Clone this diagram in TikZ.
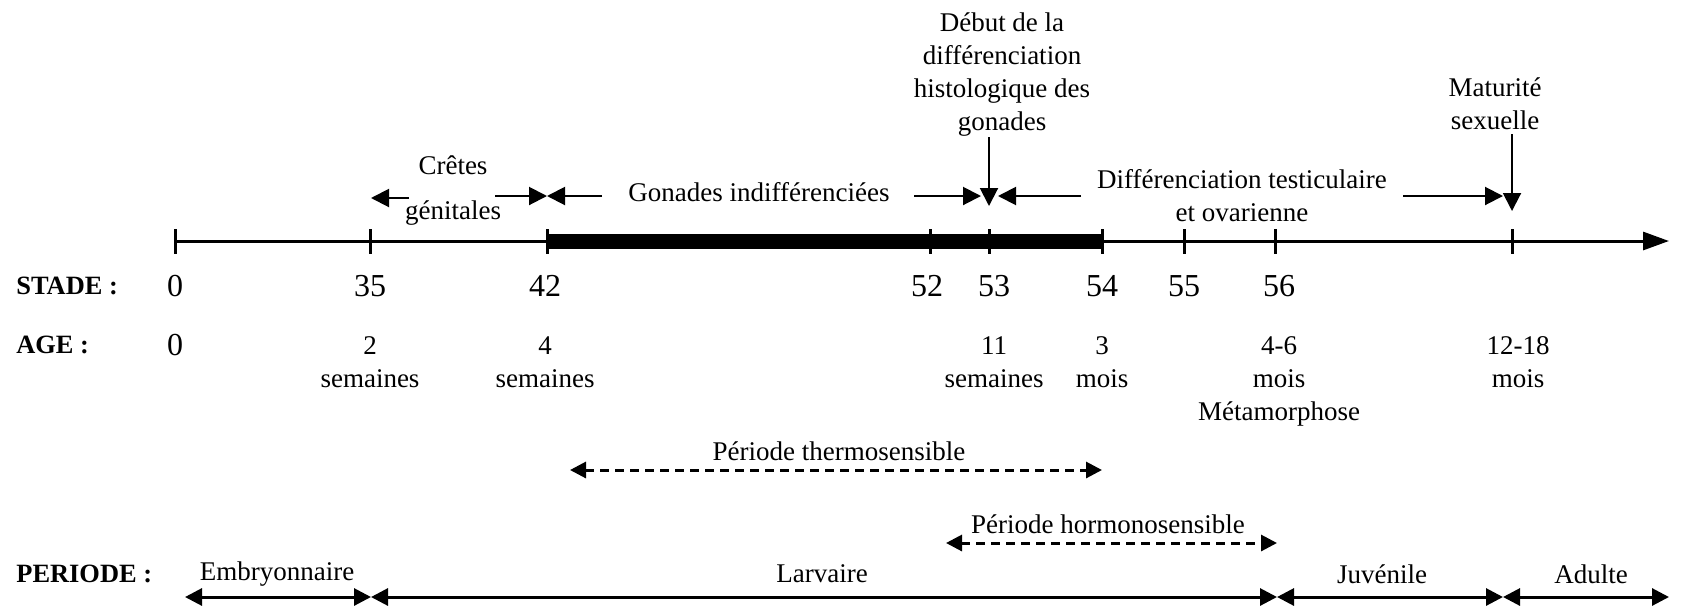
\documentclass[tikz,border=0pt]{standalone}
\usepackage{fontspec}
\setmainfont{Liberation Serif}
\usetikzlibrary{arrows.meta}
\begin{document}
\begin{tikzpicture}[x=0.5pt,y=-0.5pt,
  lbl/.style={font=\fontsize{13.5}{16.5}\selectfont, inner sep=0pt, align=center},
  num/.style={font=\fontsize{16}{18}\selectfont, inner sep=0pt},
  hd/.style={font=\fontsize{13.2}{16.5}\selectfont\bfseries, inner sep=0pt, anchor=west},
  axisline/.style={line width=1.5pt, -{Triangle[length=13pt,width=9pt]}},
  tickline/.style={line width=1.5pt},
  ann/.style={line width=1pt, -{Triangle[length=9pt,width=9pt]}},
  dsh/.style={line width=1.5pt, dash pattern=on 4.5pt off 3pt, {Triangle[length=8pt,width=8pt]}-{Triangle[length=8pt,width=8pt]}},
  per/.style={line width=1.5pt, {Triangle[length=8.5pt,width=8.5pt]}-{Triangle[length=8.5pt,width=8.5pt]}},
]
\useasboundingbox (0,0) rectangle (1686,606);

% main axis
\coordinate (a0) at (175,241);
\coordinate (aend) at (1669,241);
\fill (547,233.5) rectangle (1102,248.5);
\draw[axisline] (a0) -- (aend);
\foreach \x in {175,370,547,930,989,1102,1184,1275,1512}
  \draw[tickline] (\x,229) -- (\x,254);

% STADE row
\node[hd] (stade) at (16,286) {STADE :};
\node[num] (s0) at (175,286) {0};
\node[num] (s35) at (370,286) {35};
\node[num] (s42) at (545,286) {42};
\node[num] (s52) at (927,286) {52};
\node[num] (s53) at (994,286) {53};
\node[num] (s54) at (1102,286) {54};
\node[num] (s55) at (1184,286) {55};
\node[num] (s56) at (1279,286) {56};

% AGE row
\node[hd] (age) at (16,345) {AGE :};
\node[num] (g0) at (175,345) {0};
\node[lbl,anchor=north] (g2) at (370,336) {2\\semaines};
\node[lbl,anchor=north] (g4) at (545,336) {4\\semaines};
\node[lbl,anchor=north] (g11) at (994,336) {11\\semaines};
\node[lbl,anchor=north] (g3) at (1102,336) {3\\mois};
\node[lbl,anchor=north] (g46) at (1279,336) {4-6\\mois\\Métamorphose};
\node[lbl,anchor=north] (g12) at (1518,336) {12-18\\mois};

% annotations above axis
\node[lbl] (cretes) at (453,191) {Crêtes\\[6pt]génitales};
\node[lbl] (gonind) at (759,192) {Gonades indifférenciées};
\node[lbl,anchor=south] (debut) at (1002,137) {Début de la\\différenciation\\histologique des\\gonades};
\node[lbl] (diffto) at (1242,196) {Différenciation testiculaire\\et ovarienne};
\node[lbl,anchor=south] (matur) at (1495,130) {Maturité\\sexuelle};

\coordinate (c1s) at (409,198);
\coordinate (c1e) at (371,198);
\coordinate (c2s) at (495,196);
\coordinate (c2e) at (547,196);
\coordinate (c3s) at (602,196);
\coordinate (c3e) at (547,196);
\coordinate (c4s) at (914,196);
\coordinate (c4e) at (981,196);
\coordinate (c5s) at (1081,196);
\coordinate (c5e) at (998,196);
\coordinate (d1e) at (989,206);
\coordinate (c6s) at (1403,196);
\coordinate (c6e) at (1503,196);
\coordinate (d2e) at (1512,211);

\draw[ann] (c1s) -- (c1e);
\draw[ann] (c2s) -- (c2e);
\draw[ann] (c3s) -- (c3e);
\draw[ann] (c4s) -- (c4e);
\draw[ann] (c5s) -- (c5e);
\draw[ann] (debut.south -| d1e) -- (d1e);
\draw[ann] (c6s) -- (c6e);
\draw[ann] (matur.south -| d2e) ++(0,4) -- (d2e);

% sensitive periods
\node[lbl] (thermo) at (839,451) {Période thermosensible};
\coordinate (t1) at (570,470);
\coordinate (t2) at (1102,470);
\draw[dsh] (t1) -- (t2);
\node[lbl] (hormo) at (1108,524) {Période hormonosensible};
\coordinate (h1) at (946,543);
\coordinate (h2) at (1277,543);
\draw[dsh] (h1) -- (h2);

% PERIODE row
\node[hd] (periode) at (16,574) {PERIODE :};
\node[lbl] (embr) at (277,574) {Embryonnaire};
\node[lbl] (larv) at (822,574) {Larvaire};
\node[lbl] (juv) at (1382,574) {Juvénile};
\node[lbl] (adul) at (1591,574) {Adulte};
\coordinate (p0) at (185,597);
\coordinate (p1) at (371,597);
\coordinate (p2) at (1277,597);
\coordinate (p3) at (1503,597);
\coordinate (p4) at (1669,597);
\draw[per] (p0) -- (p1);
\draw[per] (p1) -- (p2);
\draw[per] (p2) -- (p3);
\draw[per] (p3) -- (p4);
\end{tikzpicture}
\end{document}
